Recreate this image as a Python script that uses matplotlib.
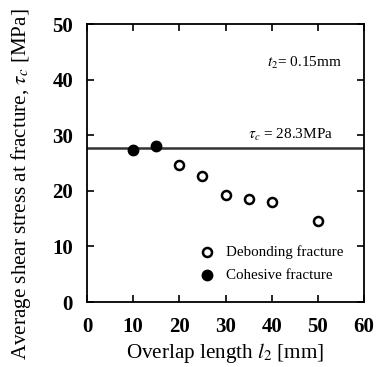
import matplotlib
matplotlib.use("Agg")
import matplotlib.pyplot as plt

plt.rcParams['font.family'] = ['Liberation Serif', 'DejaVu Serif']
plt.rcParams['mathtext.fontset'] = 'stix'

# data
debond_x = [20, 25, 30, 35, 40, 50]
debond_y = [24.6, 22.6, 19.3, 18.6, 18.0, 14.5]
cohesive_x = [10, 15]
cohesive_y = [27.3, 28.1]
tau_line = 27.75
x_ticks = [0, 10, 20, 30, 40, 50, 60]
y_ticks = [0, 10, 20, 30, 40, 50]

fig = plt.figure(figsize=(3.76, 3.67), dpi=100)
ax = fig.add_axes([87 / 376, 1 - 302 / 367, 277 / 376, 278 / 367])

ax.axhline(tau_line, color='#333333', linewidth=1.8, zorder=1)
ax.plot(debond_x, debond_y, 'o', markersize=6.5, markerfacecolor='white',
        markeredgecolor='black', markeredgewidth=1.8, linestyle='none', zorder=3)
ax.plot(cohesive_x, cohesive_y, 'o', markersize=7.5, color='black',
        linestyle='none', zorder=3)

ax.set_xlim(0, 60)
ax.set_ylim(0, 50)
ax.set_xticks(x_ticks)
ax.set_yticks(y_ticks)
ax.tick_params(direction='in', top=True, right=True, length=5, width=1.2,
               labelsize=15)
ax.tick_params(axis='x', pad=11)
ax.tick_params(axis='y', pad=10)
for lab in ax.get_xticklabels() + ax.get_yticklabels():
    lab.set_fontweight('bold')
for s in ax.spines.values():
    s.set_linewidth(1.3)

ax.set_xlabel(r'Overlap length $l_2$ [mm]', fontsize=15.2, labelpad=3)
ax.set_ylabel(r'Average shear stress at fracture, $\tau_c$ [MPa]', fontsize=15.2)
ax.yaxis.set_label_coords(-0.195, 0.425)

ax.text(0.92, 0.86, r'$t_2$= 0.15mm', transform=ax.transAxes, ha='right',
        va='center', fontsize=11)
ax.text(0.888, 0.60, r'$\tau_c$ = 28.3MPa', transform=ax.transAxes, ha='right',
        va='center', fontsize=11)

# legend drawn by hand like the original
ax.plot([0.433], [0.18], 'o', transform=ax.transAxes, markersize=6.5,
        markerfacecolor='white', markeredgecolor='black', markeredgewidth=1.8,
        clip_on=False)
ax.text(0.502, 0.18, 'Debonding fracture', transform=ax.transAxes, va='center',
        fontsize=10.8)
ax.plot([0.433], [0.097], 'o', transform=ax.transAxes, markersize=7.5,
        color='black', clip_on=False)
ax.text(0.502, 0.097, 'Cohesive fracture', transform=ax.transAxes, va='center',
        fontsize=10.8)

fig.savefig('out.png', dpi=100)
